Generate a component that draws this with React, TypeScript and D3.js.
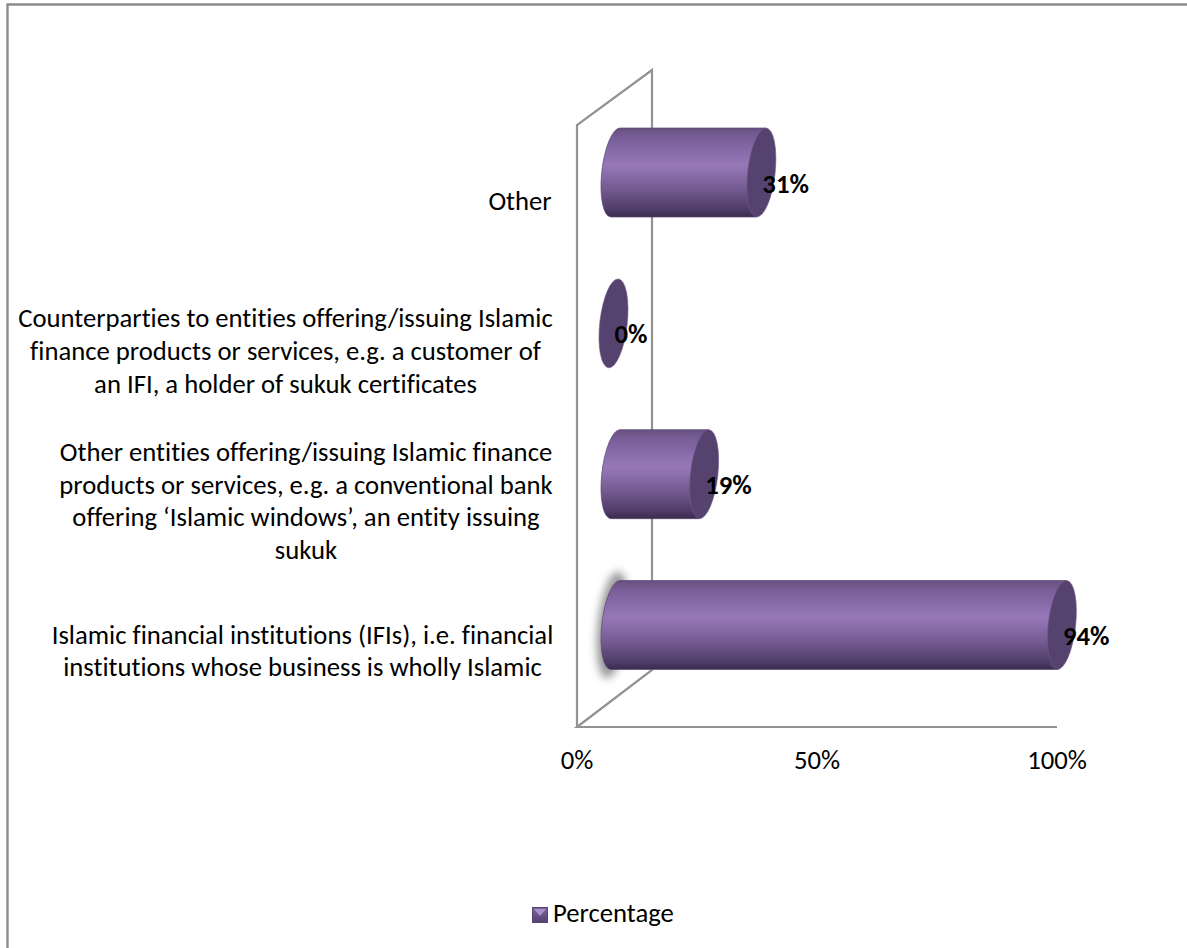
import React from "react";
import * as d3 from "d3";

const categories = ["Other", "Counterparties", "Other entities", "IFIs"];
const values = [31, 0, 19, 94];
const valueLabels = ["31%", "0%", "19%", "94%"];
const axisTicks = [0, 50, 100];
const labelCenters = [520, 285.5, 306, 302.5];
const labelLines = [
  ["Other"],
  [
    "Counterparties to entities offering/issuing Islamic",
    "finance products or services, e.g. a customer of",
    "an IFI, a holder of sukuk certificates",
  ],
  [
    "Other entities offering/issuing Islamic finance",
    "products or services, e.g. a conventional bank",
    "offering ‘Islamic windows’, an entity issuing",
    "sukuk",
  ],
  [
    "Islamic financial institutions (IFIs), i.e. financial",
    "institutions whose business is wholly Islamic",
  ],
];
const legendLabel = "Percentage";

const FONT = "Carlito, Calibri, Lato, sans-serif";
const FS = 26.7;
const LINE = 32.6;

const axisX = d3.scaleLinear().domain([0, 100]).range([577, 1057]);
const barX = d3.scaleLinear().domain([0, 100]).range([613.5, 1090.5]);
const barY = d3.scalePoint<string>().domain(categories).range([172.5, 625]);
const labelY = d3.scalePoint<string>().domain(categories).range([210, 660]);

const MAJOR = 44.7;
const MINOR = 13.7;
const TILT = 6.4;
const SHIFT = 4.5;

export default function App() {
  const wall = d3.line()([
    [axisX(0), 727],
    [axisX(0), 125],
    [652, 70],
    [652, 670],
    [axisX(0), 727],
    [axisX(100), 727],
  ]);
  return (
    <svg
      width={1187}
      height={948}
      style={{ position: "absolute", left: 0, top: 0, display: "block", fontVariantLigatures: "none" }}
      fontFamily={FONT}
    >
      <defs>
        <linearGradient id="body" x1="0" y1="0" x2="0" y2="1">
          <stop offset="0" stopColor="#67517f" />
          <stop offset="0.12" stopColor="#7a5f9a" />
          <stop offset="0.42" stopColor="#9678b8" />
          <stop offset="0.7" stopColor="#72598f" />
          <stop offset="0.92" stopColor="#4e3b66" />
          <stop offset="1" stopColor="#3a2c4e" />
        </linearGradient>
        <linearGradient id="mark" x1="0" y1="0" x2="0" y2="1">
          <stop offset="0" stopColor="#7d65a0" />
          <stop offset="1" stopColor="#554070" />
        </linearGradient>
        <filter id="blur" x="-100%" y="-30%" width="300%" height="160%">
          <feGaussianBlur stdDeviation="4" />
        </filter>
      </defs>
      <rect width={1187} height={948} fill="#fff" />
      <path d="M7.5,948V4.5H1187" fill="none" stroke="#8c8c8c" strokeWidth={2.4} />
      <path d={wall ?? ""} fill="none" stroke="#929292" strokeWidth={2.2} />

      {categories.map((c, i) => {
        const cy = barY(c) as number;
        const xe = barX(values[i]);
        const x0 = barX(0) + 2;
        const body = values[i] > 0;
        return (
          <g key={c}>
            {values[i] > 90 && (
              <ellipse
                cx={x0 - 3}
                cy={cy}
                rx={MINOR + 1}
                ry={MAJOR + 9}
                transform={`rotate(${TILT} ${x0 - 3} ${cy})`}
                fill="#969696"
                filter="url(#blur)"
              />
            )}
            {body && (
              <path
                d={`M${xe + SHIFT},${cy - 44.5}L${x0 + SHIFT},${cy - 44.5}A${MINOR},${MAJOR} ${TILT} 0 0 ${x0 - SHIFT},${cy + 44.5}L${xe - SHIFT},${cy + 44.5}Z`}
                fill="url(#body)"
                stroke="#5a4672"
                strokeWidth={0.7}
              />
            )}
            <ellipse
              cx={xe}
              cy={cy}
              rx={MINOR}
              ry={MAJOR}
              transform={`rotate(${TILT} ${xe} ${cy})`}
              fill="#56426e"
              stroke="#6f5a88"
              strokeWidth={0.6}
            />
            <text x={xe + 1} y={cy + 20} fontSize={FS} fontWeight={700} fill="#000">
              {valueLabels[i]}
            </text>
          </g>
        );
      })}

      {categories.map((c, i) => {
        const lines = labelLines[i];
        const mid = labelY(c) as number;
        return lines.map((l, j) => (
          <text
            key={c + j}
            x={labelCenters[i]}
            y={mid + (j - (lines.length - 1) / 2) * LINE}
            textAnchor="middle"
            fontSize={FS}
            fill="#000"
          >
            {l}
          </text>
        ));
      })}

      {axisTicks.map((t) => (
        <text key={t} x={axisX(t)} y={769} textAnchor="middle" fontSize={FS} fill="#000">
          {t}%
        </text>
      ))}

      <g>
        <rect x={532.5} y={907.5} width={15} height={15} fill="url(#mark)" stroke="#5a4672" strokeWidth={1} />
        <path d="M534,909H546L540,916Z" fill="#a890c8" />
        <text x={553} y={922} fontSize={FS} fill="#000">
          {legendLabel}
        </text>
      </g>
    </svg>
  );
}
